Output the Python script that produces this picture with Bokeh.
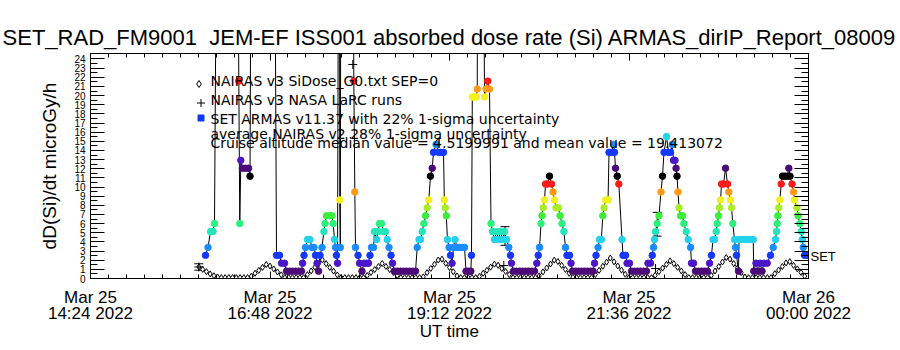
from bokeh.plotting import figure
from bokeh.models import (ColumnDataSource, FixedTicker, LinearAxis, Label, Range1d,
                          Whisker, TeeHead)
from bokeh.embed import file_html
from bokeh.resources import INLINE

# ---------------- data (UT hours on Mar 25 2022, dose rate microGy/h) ----------------
armas_time = [
    15.938, 15.971, 16.005, 16.038, 16.058, 16.085, 16.370, 16.383, 16.396, 16.410,
    16.432, 16.473, 16.513, 16.533, 16.546, 16.864, 16.887, 16.927, 16.954, 16.994,
    17.021, 17.061, 17.101, 17.141, 17.181, 17.221, 17.235, 17.255, 17.275, 17.302,
    17.335, 17.362, 17.388, 17.409, 17.429, 17.449, 17.469, 17.495, 17.520, 17.536,
    17.556, 17.596, 17.629, 17.645, 17.663, 17.676, 17.689, 17.703, 17.716, 17.729,
    17.733, 17.740, 17.747, 17.910, 17.921, 17.934, 17.943, 17.977, 17.997, 18.030,
    18.057, 18.090, 18.117, 18.137, 18.157, 18.184, 18.197, 18.224, 18.244, 18.264,
    18.291, 18.318, 18.344, 18.367, 18.391, 18.418, 18.438, 18.465, 18.505, 18.545,
    18.585, 18.625, 18.665, 18.705, 18.746, 18.768, 18.792, 18.812, 18.835, 18.857,
    18.879, 18.902, 18.923, 18.946, 18.969, 18.986, 19.020, 19.053, 19.087, 19.120,
    19.131, 19.144, 19.157, 19.173, 19.194, 19.214, 19.234, 19.254, 19.274, 19.300,
    19.334, 19.367, 19.401, 19.421, 19.454, 19.485, 19.494, 19.505, 19.532, 19.559,
    19.571, 19.577, 19.655, 19.668, 19.688, 19.712, 19.735, 19.755, 19.775, 19.802,
    19.829, 19.855, 19.882, 19.909, 19.936, 19.962, 19.993, 20.016, 20.029, 20.056,
    20.096, 20.136, 20.176, 20.216, 20.257, 20.297, 20.337, 20.368, 20.386, 20.404,
    20.424, 20.437, 20.453, 20.470, 20.484, 20.511, 20.537, 20.564, 20.584, 20.604,
    20.624, 20.658, 20.678, 20.704, 20.729, 20.751, 20.771, 20.805, 20.825, 20.845,
    20.885, 20.925, 20.965, 21.005, 21.045, 21.086, 21.119, 21.139, 21.159, 21.186,
    21.206, 21.230, 21.250, 21.266, 21.286, 21.320, 21.333, 21.366, 21.397, 21.406,
    21.420, 21.443, 21.464, 21.507, 21.520, 21.554, 21.574, 21.607, 21.634, 21.674,
    21.714, 21.754, 21.794, 21.834, 21.854, 21.888, 21.911, 21.928, 21.941, 21.955,
    21.977, 22.001, 22.028, 22.048, 22.068, 22.102, 22.128, 22.155, 22.178, 22.195,
    22.215, 22.229, 22.242, 22.255, 22.269, 22.289, 22.316, 22.333, 22.365, 22.392,
    22.423, 22.436, 22.463, 22.489, 22.530, 22.570, 22.610, 22.650, 22.677, 22.703,
    22.723, 22.744, 22.766, 22.780, 22.797, 22.810, 22.824, 22.837, 22.864, 22.891,
    22.917, 22.935, 22.955, 22.971, 22.988, 23.011, 23.024, 23.038, 23.064, 23.072,
    23.105, 23.145, 23.185, 23.225, 23.261, 23.268, 23.298, 23.325, 23.352, 23.379,
    23.405, 23.448, 23.492, 23.528, 23.559, 23.573, 23.582, 23.590, 23.603, 23.617,
    23.635, 23.653, 23.686, 23.720, 23.737, 23.753, 23.780, 23.800, 23.813, 23.847,
    23.860, 23.884, 23.903, 23.916, 23.930, 23.947, 23.980,
]
armas_dose = [
    2.53, 3.40, 5.13, 5.13, 6.00, 40.0, 40.0, 21.58, 6.00, 12.92,
    12.06, 12.06, 12.06, 11.19, 40.0, 40.0, 2.53, 2.53, 1.67, 1.67,
    0.80, 0.80, 0.80, 0.80, 0.80, 0.80, 1.67, 2.53, 3.40, 4.26,
    4.26, 3.40, 3.40, 2.53, 1.67, 0.80, 2.53, 3.40, 5.13, 6.00,
    6.86, 6.86, 6.86, 6.00, 4.26, 3.40, 2.53, 1.67, 40.0, 40.0,
    8.59, 3.40, 40.0, 40.0, 21.58, 9.46, 3.40, 2.53, 1.67, 0.80,
    1.67, 1.67, 1.67, 2.53, 3.40, 3.40, 5.13, 4.26, 5.13, 6.00,
    6.00, 5.13, 5.13, 4.26, 3.40, 2.53, 1.67, 0.80, 0.80, 0.80,
    0.80, 0.80, 0.80, 0.80, 0.80, 3.40, 4.26, 4.26, 5.13, 6.00,
    6.86, 7.73, 8.59, 11.19, 12.06, 13.79, 14.66, 13.79, 13.79, 13.79,
    8.59, 7.73, 6.86, 4.26, 3.40, 2.53, 1.67, 3.40, 4.26, 3.40,
    3.40, 3.40, 3.40, 0.80, 0.80, 0.80, 2.53, 19.85, 19.85, 19.85,
    20.72, 40.0, 40.0, 19.85, 20.72, 21.58, 20.72, 6.00, 5.13, 4.26,
    5.13, 4.26, 5.13, 4.26, 5.13, 4.26, 3.40, 2.53, 1.67, 0.80,
    0.80, 0.80, 0.80, 0.80, 0.80, 0.80, 0.80, 1.67, 2.53, 3.40,
    6.00, 6.86, 7.73, 8.59, 10.33, 10.33, 11.19, 10.33, 9.46, 8.59,
    7.73, 7.73, 6.86, 6.00, 5.13, 3.40, 2.53, 2.53, 1.67, 0.80,
    0.80, 0.80, 0.80, 0.80, 0.80, 0.80, 0.80, 1.67, 2.53, 3.40,
    4.26, 4.26, 6.86, 7.73, 8.59, 8.59, 13.79, 13.79, 14.66, 13.79,
    12.06, 11.19, 10.33, 4.26, 2.53, 2.53, 1.67, 1.67, 0.80, 0.80,
    0.80, 0.80, 0.80, 0.80, 1.67, 1.67, 2.53, 3.40, 4.26, 5.13,
    6.00, 6.86, 9.46, 11.19, 13.79, 15.52, 13.79, 13.79, 14.66, 12.92,
    12.92, 12.06, 11.19, 9.46, 7.73, 6.86, 6.86, 6.00, 5.13, 4.26,
    3.40, 1.67, 1.67, 0.80, 0.80, 0.80, 0.80, 0.80, 1.67, 2.53,
    4.26, 4.26, 5.13, 6.00, 6.86, 7.73, 8.59, 10.33, 10.33, 12.06,
    10.33, 9.46, 8.59, 7.73, 6.00, 4.26, 3.40, 2.53, 0.80, 4.26,
    4.26, 4.26, 4.26, 4.26, 4.26, 0.80, 1.67, 0.80, 1.67, 0.80,
    1.67, 1.67, 2.53, 3.40, 4.26, 5.13, 6.00, 6.86, 7.73, 8.59,
    10.33, 11.19, 11.19, 11.19, 12.06, 11.19, 10.33, 9.46, 8.59, 7.73,
    6.86, 6.00, 5.13, 4.26, 3.40, 2.53, 2.53,
]

# NAIRAS v3 SiDose model, sampled every 3 min from 15:51 UT
nairas_start = 15.85
nairas_step = 0.05
nairas_dose = [
    1.26, 1.00, 0.75, 0.50, 0.30, 0.15, 0.10, 0.10, 0.10, 0.10,
    0.10, 0.10, 0.10, 0.10, 0.25, 0.57, 0.89, 1.21, 1.53, 1.36,
    1.04, 0.72, 0.40, 0.10, 0.10, 0.10, 0.10, 0.10, 0.10, 0.42,
    0.83, 1.24, 1.65, 2.03, 1.62, 1.21, 0.80, 0.39, 0.10, 0.10,
    0.10, 0.10, 0.10, 0.10, 0.10, 0.33, 0.66, 0.98, 1.31, 1.64,
    1.31, 0.98, 0.66, 0.33, 0.10, 0.10, 0.10, 0.10, 0.10, 0.10,
    0.18, 0.64, 1.10, 1.56, 2.02, 2.12, 1.66, 1.20, 0.74, 0.28,
    0.10, 0.10, 0.10, 0.10, 0.10, 0.23, 0.57, 0.90, 1.24, 1.57,
    1.44, 1.10, 0.77, 0.43, 0.10, 0.10, 0.10, 0.10, 0.10, 0.10,
    0.10, 0.29, 0.72, 1.15, 1.58, 2.01, 1.86, 1.43, 1.00, 0.57,
    0.14, 0.10, 0.10, 0.10, 0.10, 0.10, 0.44, 0.89, 1.34, 1.79,
    2.24, 1.82, 1.37, 0.92, 0.47, 0.10, 0.10, 0.10, 0.10, 0.10,
    0.10, 0.10, 0.35, 0.75, 1.14, 1.54, 1.93, 1.62, 1.22, 0.83,
    0.43, 0.10, 0.10, 0.10, 0.10, 0.10, 0.10, 0.33, 0.82, 1.31,
    1.80, 2.29, 2.12, 1.63, 1.14, 0.65, 0.16, 0.10, 0.10, 0.10,
    0.10, 0.10, 0.10, 0.10, 0.53, 0.92, 1.31, 1.71, 1.84, 1.44,
    1.05, 0.66, 0.26,
]

# NAIRAS v3 NASA LaRC runs
larc_time = [15.848, 17.907, 19.926, 21.955]
larc_dose = [1.26, 23.40, 1.42, 1.09]

# 1-sigma uncertainty bars
err_time = [15.848, 19.942, 21.977]
err_dose = [1.26, 4.65, 5.93]
err_sigma = [0.35, 1.02, 1.30]

x_tick_values = [14.4, 16.8, 19.2, 21.6, 24]
x_tick_dates = ["Mar 25", "Mar 25", "Mar 25", "Mar 25", "Mar 26"]
x_tick_times = ["14:24 2022", "16:48 2022", "19:12 2022", "21:36 2022", "00:00 2022"]
y_tick_values = list(range(25))
set_marker_value = 2.4

title_text = "SET_RAD_FM9001\u00a0 JEM-EF ISS001 absorbed dose rate (Si) ARMAS_dirIP_Report_08009"
y_title = "dD(Si)/dt microGy/h"
x_title = "UT time"
legend_lines = [
    "NAIRAS v3 SiDose_G0.txt SEP=0",
    "NAIRAS v3 NASA LaRC runs",
    "SET ARMAS v11.37 with 22% 1-sigma uncertainty",
    "average NAIRAS v2 28% 1-sigma uncertainty",
    "Cruise altitude median value = 4.5199991 and mean value = 19.413072",
]

# ---------------- layout ----------------
W, H = 900, 350
BL, BR, BT, BB = 90, 92, 53, 72
X0, X1 = 14.4, 24.0
Y0, Y1 = 0.0, 24.6
FW = W - BL - BR
FH = H - BT - BB
FONT = "Liberation Sans"
LFONT = "DejaVu Sans"


def X(px):
    return X0 + (px - BL) * (X1 - X0) / FW


def Y(py):
    return Y0 + (H - BB - py) * (Y1 - Y0) / FH


palette = ["#4c0a78", "#4a16c8", "#1438ff", "#1a8cff", "#22d2ea", "#22e6b8",
           "#2af07c", "#3cee3c", "#a8ee28", "#f2f21a", "#ff9a14", "#ff1a1a", "#000000"]
armas_color = [palette[int(round((v - 0.80) / 0.866)) % 13] for v in armas_dose]
nairas_time = [nairas_start + nairas_step * i for i in range(len(nairas_dose))]

p = figure(width=W, height=H, x_range=Range1d(X0, X1), y_range=Range1d(Y0, Y1),
           output_backend="svg", toolbar_location=None,
           min_border_left=BL, min_border_right=BR, min_border_top=BT, min_border_bottom=BB)
p.xgrid.visible = False
p.ygrid.visible = False
p.outline_line_color = None
p.background_fill_color = "white"
p.border_fill_color = "white"

p.title.text = title_text
p.title.text_font = FONT
p.title.text_font_size = "22px"
p.title.text_font_style = "normal"
p.title.text_color = "black"
p.title.align = "center"
p.title.standoff = 7

x_minor = [X0 + 0.24 * i for i in range(41)]
y_minor = [0.5 + i for i in range(24)]


def ticks_common(ax):
    ax.major_tick_out = 0
    ax.minor_tick_out = 0
    ax.axis_line_color = "black"
    ax.major_tick_line_color = "black"
    ax.minor_tick_line_color = "black"


def hide_labels(ax):
    ax.major_label_text_color = None
    ax.major_label_standoff = 0
    ax.axis_label_standoff = 0


# bottom x axis: ticks + date line
bx = p.xaxis[0]
bx.ticker = FixedTicker(ticks=x_tick_values, minor_ticks=x_minor)
ticks_common(bx)
bx.major_tick_in = 7
bx.minor_tick_in = 4
bx.major_label_overrides = dict(zip(x_tick_values, x_tick_dates))
bx.major_label_text_font = FONT
bx.major_label_text_font_size = "17px"
bx.major_label_text_color = "black"
bx.major_label_standoff = 9
bx.axis_label_standoff = 0

# second bottom axis: time line + axis title
bx2 = LinearAxis(ticker=FixedTicker(ticks=x_tick_values, minor_ticks=[]))
bx2.axis_line_color = None
bx2.major_tick_line_color = None
bx2.minor_tick_line_color = None
bx2.major_tick_in = 0
bx2.major_tick_out = 0
bx2.major_label_overrides = dict(zip(x_tick_values, x_tick_times))
bx2.major_label_text_font = FONT
bx2.major_label_text_font_size = "17px"
bx2.major_label_text_color = "black"
bx2.major_label_standoff = -6
bx2.axis_label = x_title
bx2.axis_label_text_font = FONT
bx2.axis_label_text_font_size = "17px"
bx2.axis_label_text_font_style = "normal"
bx2.axis_label_text_color = "black"
bx2.axis_label_standoff = -4
p.add_layout(bx2, "below")

# left y axis
ly = p.yaxis[0]
ly.ticker = FixedTicker(ticks=y_tick_values, minor_ticks=y_minor)
ticks_common(ly)
ly.major_tick_in = 14
ly.minor_tick_in = 7
ly.major_label_text_font = FONT
ly.major_label_text_font_size = "10px"
ly.major_label_text_color = "black"
ly.major_label_standoff = 5
ly.axis_label = y_title
ly.axis_label_text_font = FONT
ly.axis_label_text_font_size = "19px"
ly.axis_label_text_font_style = "normal"
ly.axis_label_text_color = "black"
ly.axis_label_standoff = 11

# top x axis (ticks only)
tx = LinearAxis(ticker=FixedTicker(ticks=x_tick_values, minor_ticks=x_minor))
ticks_common(tx)
tx.major_tick_in = 7
tx.minor_tick_in = 4
hide_labels(tx)
p.add_layout(tx, "above")

# right y axis (ticks only)
ry = LinearAxis(ticker=FixedTicker(ticks=y_tick_values, minor_ticks=y_minor))
ticks_common(ry)
ry.major_tick_in = 14
ry.minor_tick_in = 7
hide_labels(ry)
p.add_layout(ry, "right")

# "SET" marker label on the right side
sy = LinearAxis(ticker=FixedTicker(ticks=[set_marker_value], minor_ticks=[]))
sy.axis_line_color = None
sy.major_tick_line_color = None
sy.major_tick_in = 0
sy.major_tick_out = 0
sy.major_label_overrides = {set_marker_value: "SET"}
sy.major_label_text_font = FONT
sy.major_label_text_font_size = "13px"
sy.major_label_text_color = "black"
sy.major_label_standoff = 2
p.add_layout(sy, "right")

# NAIRAS model curve (connected diamonds)
p.line(nairas_time, nairas_dose, line_color="black", line_width=1)
p.scatter(nairas_time, nairas_dose, marker="diamond", size=6,
          line_color="black", fill_color="white", line_width=1)

# ARMAS line and coloured points
p.line(armas_time, armas_dose, line_color="black", line_width=1)
src = ColumnDataSource(dict(t=armas_time, v=armas_dose, c=armas_color))
p.scatter("t", "v", source=src, marker="circle", size=6.5, fill_color="c", line_color="c")

# LaRC runs
p.scatter(larc_time, larc_dose, marker="cross", size=9, line_color="black", line_width=1)

# uncertainty bars
esrc = ColumnDataSource(dict(t=err_time,
                             lo=[v - e for v, e in zip(err_dose, err_sigma)],
                             hi=[v + e for v, e in zip(err_dose, err_sigma)]))
p.add_layout(Whisker(base="t", lower="lo", upper="hi", source=esrc, dimension="height",
                     line_color="black", line_width=1,
                     lower_head=TeeHead(size=9, line_color="black", line_width=1),
                     upper_head=TeeHead(size=9, line_color="black", line_width=1)))

# legend (in-plot annotations)
p.scatter([X(198.5)], [Y(83.5)], marker="diamond", size=7, line_color="black", fill_color="white")
p.scatter([X(200.5)], [Y(102.5)], marker="cross", size=8, line_color="black")
p.scatter([X(200.5)], [Y(117.5)], marker="square", size=6, line_color="#1438ff", fill_color="#1438ff")
for txt, mid in zip(legend_lines, [80.9, 99.7, 118.4, 133.3, 142.0]):
    p.add_layout(Label(x=X(210), y=Y(mid), text=txt, text_font=LFONT, text_font_size="14px",
                       text_color="black", text_align="left", text_baseline="middle"))

open("out.html", "w").write(file_html(p, INLINE))
